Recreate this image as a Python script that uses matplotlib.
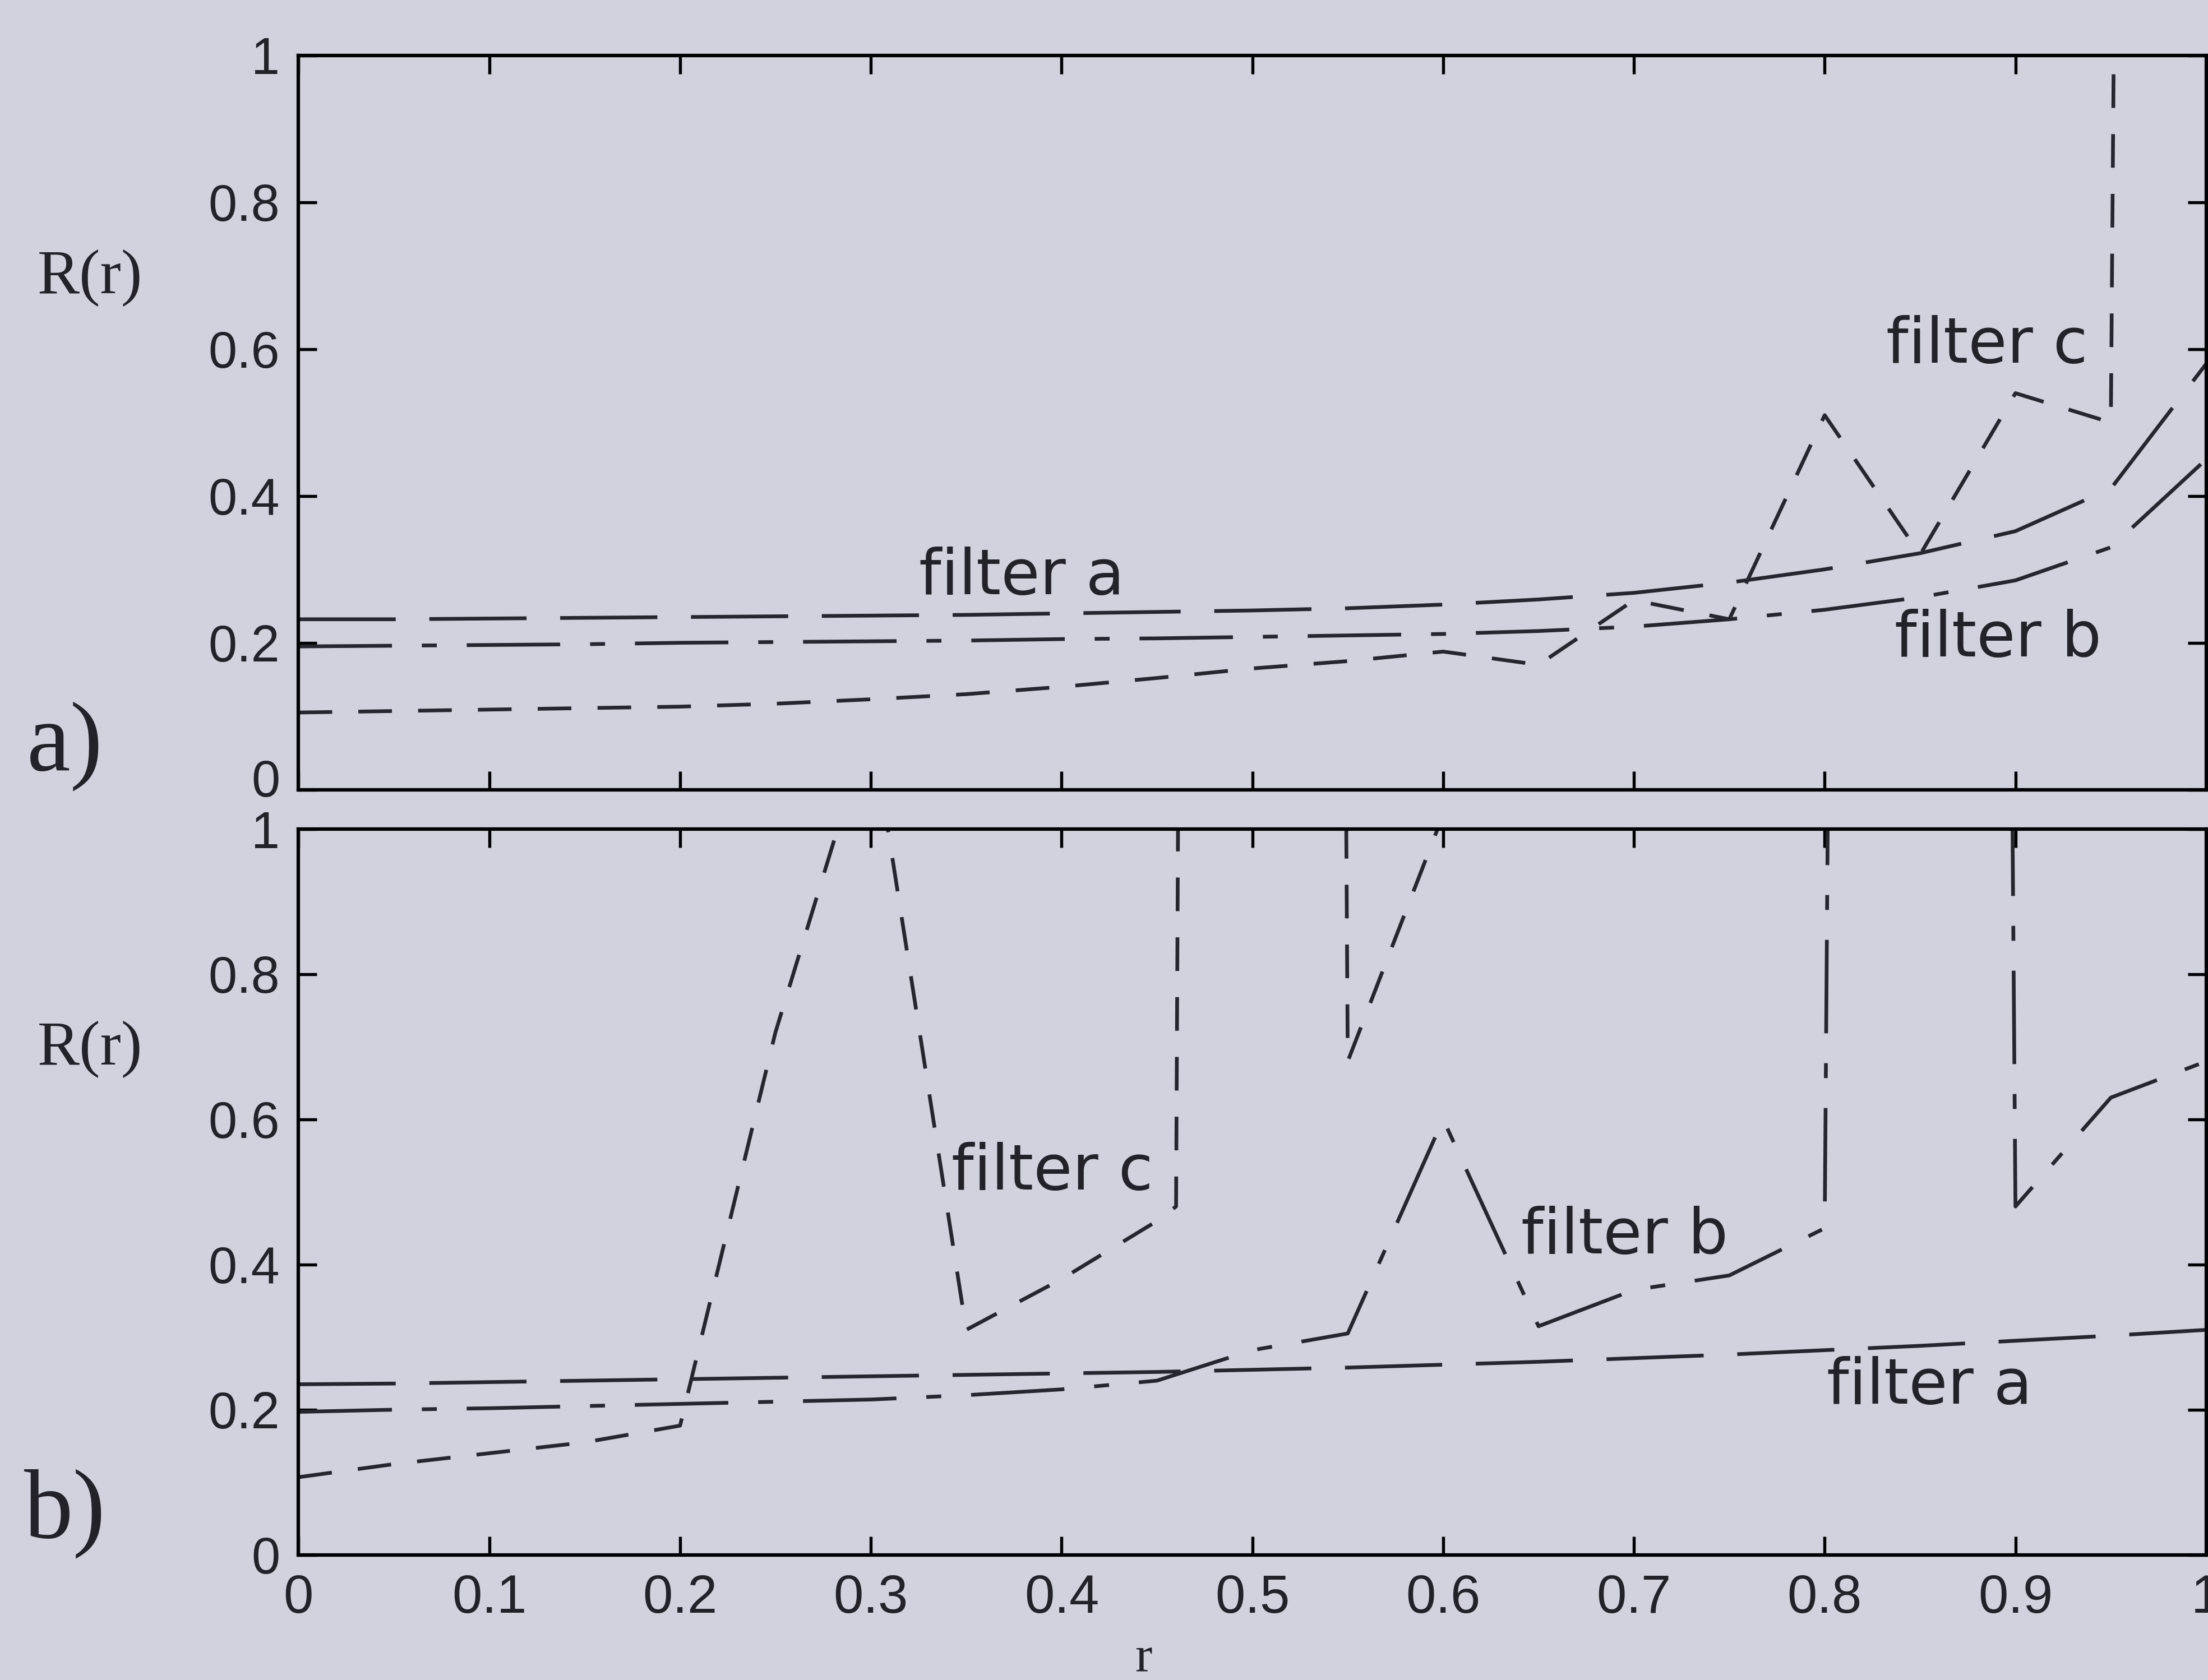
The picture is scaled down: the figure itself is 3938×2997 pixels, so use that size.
import numpy as np
import matplotlib
matplotlib.use("Agg")
import matplotlib.pyplot as plt
from matplotlib.transforms import ScaledTranslation

nan = np.nan

# r grid used for the smooth parts
r = [0.0, 0.05, 0.1, 0.15, 0.2, 0.25, 0.3, 0.35, 0.4, 0.45, 0.5,
     0.55, 0.6, 0.65, 0.7, 0.75, 0.8, 0.85, 0.9, 0.95, 1.0]

# panel a)
a_top = [0.232, 0.232, 0.233, 0.234, 0.235, 0.236, 0.237, 0.238, 0.240, 0.242, 0.244,
         0.247, 0.252, 0.259, 0.268, 0.282, 0.300, 0.322, 0.352, 0.410, 0.580]
b_top = [0.195, 0.196, 0.197, 0.198, 0.200, 0.201, 0.202, 0.203, 0.205, 0.206, 0.208,
         0.210, 0.212, 0.216, 0.222, 0.232, 0.245, 0.262, 0.285, 0.330, 0.450]
c_top_r = r[:20] + [0.953]
c_top = [0.105, 0.107, 0.109, 0.111, 0.113, 0.117, 0.123, 0.130, 0.140, 0.152, 0.165,
         0.175, 0.188, 0.170, 0.258, 0.232, 0.510, 0.320, 0.540, 0.500, 1.5]

# panel b)
a_bot = [0.235, 0.236, 0.238, 0.240, 0.242, 0.244, 0.246, 0.248, 0.250, 0.252, 0.255,
         0.258, 0.262, 0.266, 0.271, 0.276, 0.282, 0.288, 0.295, 0.302, 0.310]
b_bot_r = r[:17] + [0.803, nan, 0.897, 0.9, 0.95, 1.0]
b_bot = [0.197, 0.200, 0.202, 0.205, 0.208, 0.211, 0.214, 0.220, 0.228, 0.240, 0.282,
         0.305, 0.600, 0.315, 0.365, 0.385, 0.450, 1.5, nan, 1.5, 0.480, 0.630, 0.680]
c_bot_r = [0.0, 0.05, 0.1, 0.15, 0.2, 0.25, 0.3, 0.35, 0.4, 0.45, 0.46, 0.462,
           nan, 0.548, 0.55, 0.6]
c_bot = [0.107, 0.125, 0.140, 0.155, 0.178, 0.720, 1.150, 0.310, 0.380, 0.460, 0.480, 1.5,
         nan, 1.5, 0.680, 1.02]

yticks = [0, 0.2, 0.4, 0.6, 0.8, 1]
ytick_labels = ["0", "0.2", "0.4", "0.6", "0.8", "1"]
xticks = [0, 0.1, 0.2, 0.3, 0.4, 0.5, 0.6, 0.7, 0.8, 0.9, 1]
xtick_labels = ["0", "0.1", "0.2", "0.3", "0.4", "0.5", "0.6", "0.7", "0.8", "0.9", "1"]

bg = "#d2d2df"
ink = "#26262e"

fig = plt.figure(figsize=(3938 / 300, 2997 / 300), dpi=300, facecolor=bg)
ax1 = fig.add_axes([0.1352, 0.530, 0.8640, 0.437])
ax2 = fig.add_axes([0.1352, 0.0745, 0.8640, 0.432])

style_a = dict(color=ink, lw=1.6, dashes=(26, 9))
style_b = dict(color=ink, lw=1.6, dashes=(25, 8, 4, 8))
style_c = dict(color=ink, lw=1.6, dashes=(9, 7))

ax1.plot(r, a_top, **style_a)
ax1.plot(r, b_top, **style_b)
ax1.plot(c_top_r, c_top, **style_c)

ax2.plot(r, a_bot, **style_a)
ax2.plot(b_bot_r, b_bot, **style_b)
ax2.plot(c_bot_r, c_bot, **style_c)

for ax in (ax1, ax2):
    ax.set_facecolor(bg)
    ax.set_xlim(0, 1)
    ax.set_ylim(0, 1)
    ax.set_yticks(yticks)
    ax.set_yticklabels(ytick_labels, fontfamily="Liberation Sans", fontsize=22)
    ax.set_xticks(xticks)
    ax.tick_params(direction="in", length=8, width=1.3, top=True, right=True,
                   colors="black", pad=8)
    ax.tick_params(axis="y", labelcolor="#222228")
    for s in ax.spines.values():
        s.set_linewidth(1.5)
        s.set_color("black")

# the "0" of panel a) sits a little above its tick, as in the original
lbl0 = ax1.get_yticklabels()[0]
lbl0.set_transform(lbl0.get_transform() + ScaledTranslation(0, 5 / 72, fig.dpi_scale_trans))

ax1.set_xticklabels([])
ax2.set_xticklabels(xtick_labels, fontfamily="Liberation Sans", fontsize=23, color="#222228")

lab = dict(fontfamily="DejaVu Sans", fontsize=27, color="#222228", ha="center", va="center")
ax1.text(0.379, 0.29, "filter a", **lab)
ax1.text(0.885, 0.605, "filter c", **lab)
ax1.text(0.891, 0.205, "filter b", **lab)
ax2.text(0.395, 0.527, "filter c", **lab)
ax2.text(0.695, 0.439, "filter b", **lab)
ax2.text(0.855, 0.232, "filter a", **lab)

serif = dict(fontfamily="Liberation Serif", color="#222228", ha="center", va="center")
fig.text(64 / 1568, 1 - 197 / 1193, "R(r)", fontsize=27, **serif)
fig.text(64 / 1568, 1 - 745 / 1193, "R(r)", fontsize=27, **serif)
fig.text(46 / 1568, 1 - 530 / 1193, "a)", fontsize=42, **serif)
fig.text(46 / 1568, 1 - 1075 / 1193, "b)", fontsize=42, **serif)
fig.text(812 / 1568, 1 - 1178 / 1193, "r", fontsize=22, **serif)

fig.savefig("out.png", dpi=300, facecolor=bg)
